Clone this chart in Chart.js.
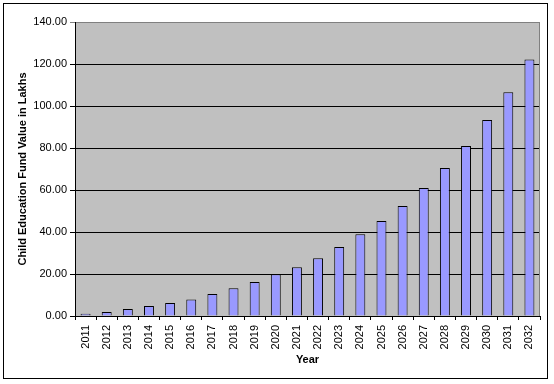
<!DOCTYPE html>
<html>
<head>
<meta charset="utf-8">
<script src="https://cdn.jsdelivr.net/npm/chart.js@4"></script>
<style>
html,body{margin:0;padding:0;background:#fff;}
#wrap{width:554px;height:384px;position:relative;}
</style>
</head>
<body>
<div id="wrap"><canvas id="c" width="554" height="384"></canvas></div>
<script>
const years = ["2011","2012","2013","2014","2015","2016","2017","2018","2019","2020","2021","2022","2023","2024","2025","2026","2027","2028","2029","2030","2031","2032"];
const fundValues = [1.1,1.9,3.3,4.8,6.2,7.9,10.5,13.2,16.2,19.9,23.2,27.5,32.9,38.9,45.2,52.4,61.0,70.5,81.0,93.3,106.5,122.2];
const yTitle = "Child Education Fund Value in Lakhs";
const xTitle = "Year";

const bgPlugin = {
  id: 'bg',
  beforeDraw(chart) {
    const {ctx, chartArea: a} = chart;
    ctx.save();
    ctx.fillStyle = '#fff';
    ctx.fillRect(0, 0, chart.width, chart.height);
    ctx.fillStyle = '#C0C0C0';
    ctx.fillRect(a.left, a.top, a.right - a.left, a.bottom - a.top);
    ctx.restore();
  },
  afterDraw(chart) {
    const {ctx, chartArea: a} = chart;
    ctx.save();
    ctx.strokeStyle = '#808080';
    ctx.lineWidth = 1;
    ctx.beginPath();
    ctx.moveTo(a.left + 1, a.top + 0.5);
    ctx.lineTo(a.right - 0.5, a.top + 0.5);
    ctx.lineTo(a.right - 0.5, a.bottom);
    ctx.stroke();
    ctx.strokeStyle = '#000';
    ctx.strokeRect(3.5, 3.5, 544, 375);
    ctx.restore();
  }
};

new Chart(document.getElementById('c'), {
  type: 'bar',
  data: {
    labels: years,
    datasets: [{
      data: fundValues,
      backgroundColor: '#9999FF',
      borderColor: '#000000',
      borderWidth: 1,
      barPercentage: 0.5,
      categoryPercentage: 0.94
    }]
  },
  options: {
    responsive: false,
    animation: false,
    events: [],
    layout: { padding: { left: 0, top: 22, right: 14, bottom: 0 } },
    plugins: { legend: { display: false }, tooltip: { enabled: false } },
    scales: {
      x: {
        offset: true,
        grid: { offset: true, drawOnChartArea: false, drawTicks: true, tickLength: 4, color: '#000' },
        border: { color: '#000', width: 1 },
        ticks: { minRotation: 90, maxRotation: 90, autoSkip: false, padding: 5, color: '#000',
                 font: { family: 'Arial, "Liberation Sans", sans-serif', size: 11 } },
        title: { display: true, text: xTitle, color: '#000', padding: { top: 0, bottom: 17 },
                 font: { family: 'Arial, "Liberation Sans", sans-serif', size: 11, weight: 'bold' } },
        afterFit(scale) { scale.height = 68; }
      },
      y: {
        min: 0, max: 140,
        ticks: { stepSize: 20, padding: 3, color: '#000',
                 font: { family: 'Arial, "Liberation Sans", sans-serif', size: 11 },
                 callback: v => Number(v).toFixed(2) },
        grid: { color: ctx => (ctx.tick && ctx.tick.value === 140 ? '#808080' : '#000'), tickLength: 5, drawTicks: true },
        border: { color: '#000', width: 1 },
        title: { display: true, text: yTitle, color: '#000', padding: { top: 16, bottom: 0 },
                 font: { family: 'Arial, "Liberation Sans", sans-serif', size: 11, weight: 'bold' } },
        afterFit(scale) { scale.width = 75; }
      }
    }
  },
  plugins: [bgPlugin]
});
</script>
</body>
</html>
